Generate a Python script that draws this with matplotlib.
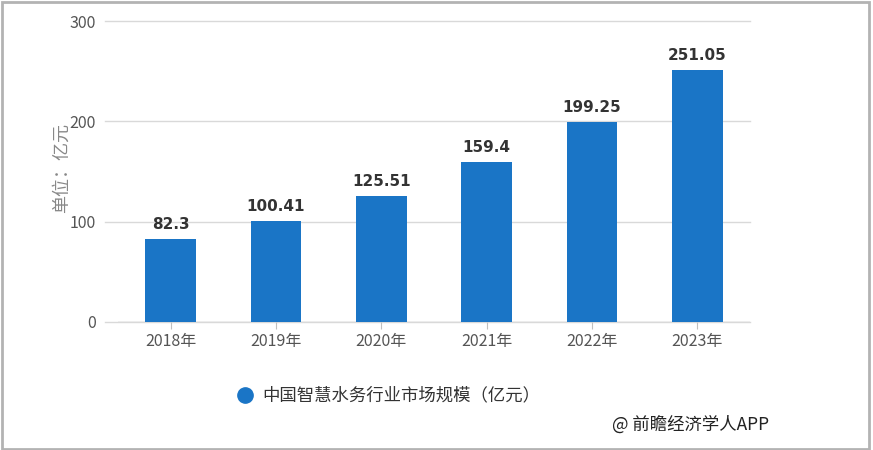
import matplotlib.pyplot as plt
from matplotlib.patches import Rectangle
from matplotlib.lines import Line2D

plt.rcParams['font.family'] = ['Noto Sans CJK SC', 'DejaVu Sans']

years = ['2018年', '2019年', '2020年', '2021年', '2022年', '2023年']
values = [82.3, 100.41, 125.51, 159.4, 199.25, 251.05]
labels = ['82.3', '100.41', '125.51', '159.4', '199.25', '251.05']
yticks = [0, 100, 200, 300]

color = '#1a75c6'

fig = plt.figure(figsize=(8.73, 4.5), dpi=100)
W, H = 873, 450
ax = fig.add_axes([118 / W, 1 - 322 / H, (750 - 118) / W, (322 - 21) / H])

x = range(len(years))
ax.bar(x, values, width=0.48, color=color, zorder=3)
for i, (v, t) in enumerate(zip(values, labels)):
    ax.text(i, v + 7, t, ha='center', va='bottom', fontsize=11,
            fontweight='bold', color='#333333', family='DejaVu Sans', zorder=4)

ax.set_xlim(-0.5, len(years) - 0.5)
ax.set_ylim(0, 300)
ax.set_yticks(yticks)
ax.set_xticks(list(x))
ax.set_xticklabels(years)
for yv in yticks:
    ax.axhline(yv, xmin=-0.02, xmax=1.0, color='#d9d9d9', lw=1, zorder=1, clip_on=False)
ax.axhline(0, color='#bfbfbf', lw=1, zorder=2)

for s in ax.spines.values():
    s.set_visible(False)
ax.tick_params(axis='y', length=0, pad=16, labelsize=11.5, labelcolor='#555555')
ax.tick_params(axis='x', length=5, color='#bfbfbf', pad=3, labelsize=11.5, labelcolor='#555555')

fig.text(62 / W, 1 - 168 / H, '单位：亿元', rotation=90, ha='center', va='center',
         fontsize=13, color='#888888')

# legend
fig.add_artist(Line2D([245 / W], [1 - 395 / H], marker='o', markersize=11,
                      color=color, transform=fig.transFigure))
fig.text(262 / W, 1 - 395 / H, '中国智慧水务行业市场规模（亿元）', ha='left', va='center',
         fontsize=12.5, color='#333333')
fig.text(612 / W, 1 - 425 / H, '@ 前瞻经济学人APP', ha='left', va='center',
         fontsize=12.5, color='#222222')

# outer border
fig.add_artist(Rectangle((1.5 / W, 1.5 / H), 867 / W, 446.5 / H, transform=fig.transFigure,
                         fill=False, edgecolor='#b3b3b3', lw=2))

fig.savefig('out.png', dpi=100)
